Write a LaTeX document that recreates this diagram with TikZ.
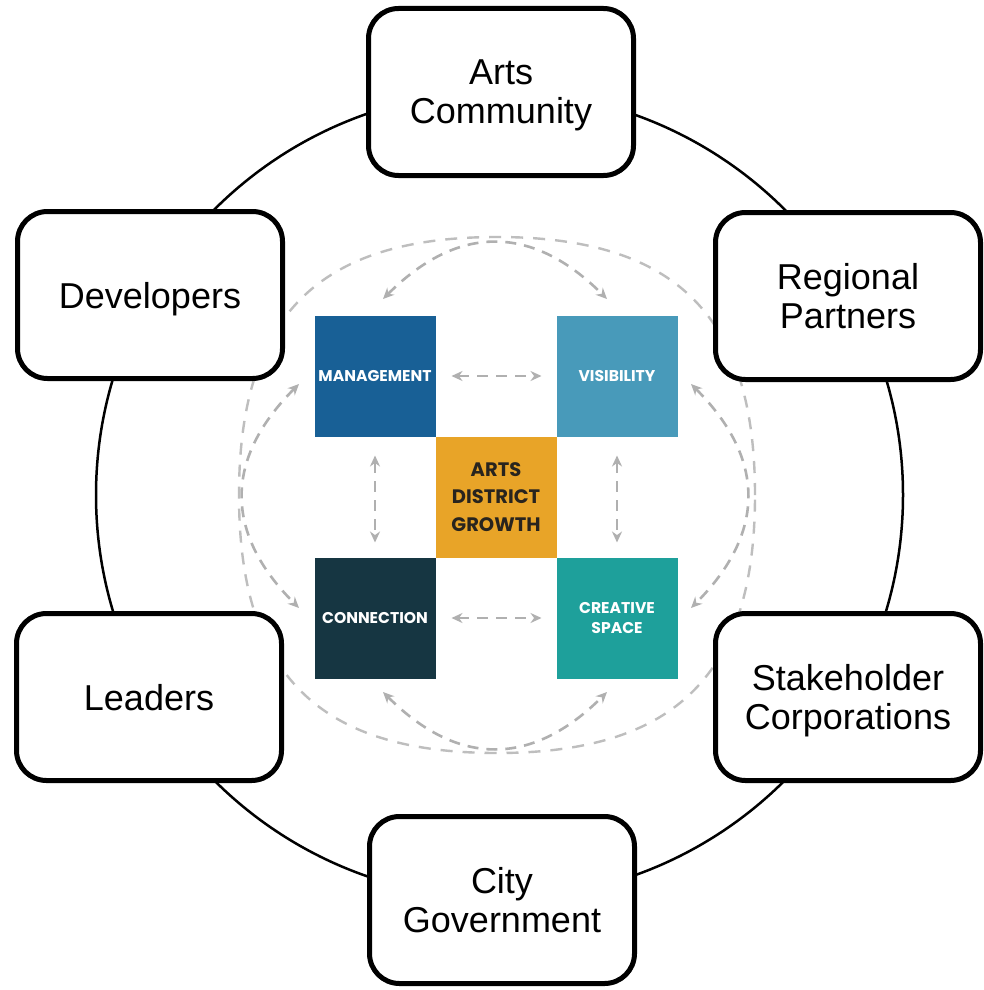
\documentclass[tikz,border=0pt]{standalone}
\usepackage{fontspec}
\setmainfont{Liberation Sans}
\newfontfamily\popfont{Poppins}
\usetikzlibrary{arrows.meta}
\definecolor{mgc}{RGB}{24,96,150}
\definecolor{vic}{RGB}{72,154,186}
\definecolor{orc}{RGB}{232,164,40}
\definecolor{coc}{RGB}{22,54,66}
\definecolor{crc}{RGB}{30,160,155}
\definecolor{txtdark}{RGB}{40,36,30}
\definecolor{lgray}{RGB}{190,190,190}
\definecolor{dgray}{RGB}{176,176,176}
\begin{document}
\begin{tikzpicture}[x=1pt,y=-1pt,
  stake/.style={draw=black, line width=5pt, rounded corners=30pt, fill=white,
    minimum width=265pt, minimum height=167pt, align=center, inner sep=0pt,
    text depth=0pt, font=\fontsize{36}{39}\selectfont},
  sq/.style={minimum size=121pt, inner sep=0pt, outer sep=0pt, align=center,
    text=white, font=\popfont\bfseries\fontsize{15.6}{20}\selectfont},
  darr/.style={draw=dgray, line width=2.6pt, dash pattern=on 11pt off 8pt,
    {Stealth[length=11pt,width=10pt]}-{Stealth[length=11pt,width=10pt]}},
  ring/.style={draw=lgray, line width=2.4pt, dash pattern=on 12pt off 10pt},
]
\useasboundingbox (0,0) rectangle (983,990);
\fill[white] (0,0) rectangle (983,990);

% big black circle
\coordinate (C0) at (499.5,495);
\draw[line width=2.5pt] (C0) circle[radius=403.5pt];

% outer dashed rounded ring
\draw[ring] (755,495) .. controls (755,316) and (676,237) .. (497,237)
  .. controls (318,237) and (239,316) .. (239,495)
  .. controls (239,674) and (318,753) .. (497,753)
  .. controls (676,753) and (755,674) .. (755,495) -- cycle;

% arrow end coordinates for curved links
\coordinate (tl) at (383,299);
\coordinate (tr) at (607,299);
\coordinate (lt) at (299,384);
\coordinate (lb) at (299,608);
\coordinate (rt) at (691,384);
\coordinate (rb) at (691,608);
\coordinate (bl) at (383,692);
\coordinate (br) at (607,692);

\draw[darr] (tl) .. controls +(75,-75) and +(-75,-75) .. (tr);
\draw[darr] (lt) .. controls +(-75,75) and +(-75,-75) .. (lb);
\draw[darr] (rt) .. controls +(75,75) and +(75,-75) .. (rb);
\draw[darr] (bl) .. controls +(75,75) and +(-75,75) .. (br);

% squares
\node[sq, fill=mgc] (mg) at (375,376) {MANAGEMENT};
\node[sq, fill=vic] (vi) at (617,376) {VISIBILITY};
\node[sq, fill=orc, text=txtdark, font=\popfont\bfseries\fontsize{19.5}{27.5}\selectfont] (ar) at (496,497) {ARTS\\DISTRICT\\GROWTH};
\node[sq, fill=coc] (co) at (375,618) {CONNECTION};
\node[sq, fill=crc] (cr) at (617,618) {CREATIVE\\SPACE};

% straight dashed links
\draw[darr] ([xshift=16pt]mg.east) -- ([xshift=-15pt]vi.west);
\draw[darr] ([xshift=16pt]co.east) -- ([xshift=-15pt]cr.west);
\draw[darr] ([yshift=-19pt]mg.south) -- ([yshift=15pt]co.north);
\draw[darr] ([yshift=-19pt]vi.south) -- ([yshift=15pt]cr.north);

% stakeholder boxes
\node[stake] (arts) at (501,92) {Arts\\Community};
\node[stake] (dev) at (150,295) {Developers};
\node[stake] (reg) at (848,296) {Regional\\Partners};
\node[stake] (lead) at (149,697) {Leaders};
\node[stake] (stak) at (848,697) {Stakeholder\\Corporations};
\node[stake] (city) at (502,900) {City\\Government};
\end{tikzpicture}
\end{document}
